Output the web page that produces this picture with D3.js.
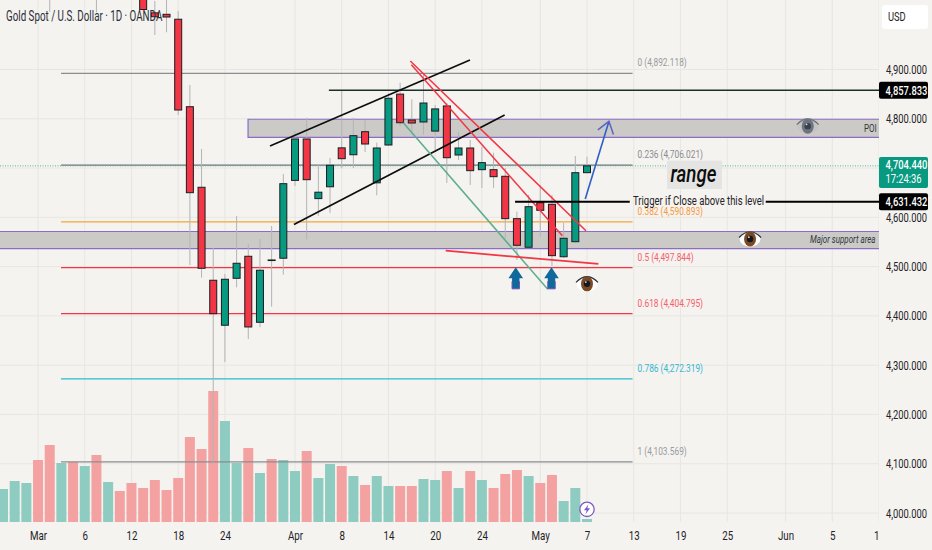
<!DOCTYPE html>
<html>
<head>
<meta charset="utf-8">
<script src="https://cdnjs.cloudflare.com/ajax/libs/d3/7.8.5/d3.min.js"></script>
<style>
  html, body { margin: 0; padding: 0; background: #f4f3ef; }
  svg { display: block; }
  text { font-family: 'Roboto', sans-serif; }
</style>
</head>
<body>
<svg id="chart" width="932" height="550"></svg>
<script>
// daily bars, gold spot, prices (first bars are above the visible range)
var opens = [5190, 5225, 5270, 5310, 5240, 5130, 5160, 5120, 5170, 5090, 5130, 5105, 5080, 5015, 5012, 5002, 4824.5, 4661, 4472.3, 4381, 4476.3, 4521, 4387, 4513.5, 4517, 4675, 4759, 4638, 4662, 4741, 4727, 4773.8, 4670, 4746.8, 4850, 4797.5, 4793.5, 4775, 4826, 4726.5, 4740.7, 4696.7, 4696.7, 4683.3, 4597.3, 4539.3, 4629.7, 4626.5, 4520, 4550.6, 4690.6];
var highs = [5250, 5290, 5340, 5330, 5260, 5190, 5180, 5200, 5190, 5150, 5160, 5125, 5095, 5039, 5041, 5018.7, 4868.6, 4738.7, 4537.8, 4485, 4602.8, 4546, 4556, 4582.5, 4688, 4775, 4802, 4706, 4720.4, 4858.4, 4802, 4797.5, 4751.5, 4852, 4873, 4839.5, 4892.1, 4828, 4832, 4773.8, 4757, 4742.8, 4731, 4700, 4611.5, 4645.4, 4665.6, 4645.4, 4588.5, 4724.5, 4723];
var lows = [5170, 5210, 5255, 5180, 5017, 5100, 5085, 5090, 5016, 5070, 5085, 5055, 5021, 4970, 4975.5, 4807.7, 4503.3, 4477.6, 4103.6, 4306.5, 4458, 4353, 4377, 4418.7, 4483.7, 4663.6, 4555.5, 4603, 4609, 4699.5, 4700, 4732.6, 4644.7, 4744.8, 4785, 4769, 4767.7, 4736.7, 4669.7, 4716.4, 4665.6, 4659.6, 4659.6, 4558, 4513.5, 4537.8, 4560.8, 4501.3, 4517.5, 4548.6, 4690];
var closes = [5225, 5270, 5310, 5240, 5130, 5160, 5120, 5170, 5090, 5130, 5105, 5080, 5021.7, 5007, 5006.5, 4817.8, 4650, 4496.6, 4404.5, 4474.3, 4506.8, 4377.5, 4492.6, 4512.3, 4668.3, 4759, 4676.4, 4651, 4705.6, 4719, 4765.7, 4748.8, 4740.7, 4841.6, 4792, 4791.4, 4832, 4820, 4721, 4740.7, 4694.7, 4711, 4682.5, 4597.3, 4543.3, 4621.6, 4614.3, 4522.2, 4557.5, 4690.6, 4704.44];
var volumes = [33, 41, 39, 62, 77, 59, 60, 56, 67, 40, 31, 39, 34, 42, 32, 44, 85, 73, 131, 101, 59, 74, 49, 63, 62, 51, 71, 44, 58, 56, 46, 37, 46, 36, 36, 36, 43, 42, 51, 34, 51, 42, 34, 48, 52, 46, 39, 47, 21, 34, 3];

var priceTicks = [4000, 4100, 4200, 4300, 4400, 4500, 4600, 4700, 4800, 4900];
var dateTickBars = [3, 7, 11, 15, 19, 25, 29, 33, 37, 41, 46, 50, 54, 58, 62, 67, 71, 75];
var dateTickLabels = ['Mar', '6', '12', '18', '24', 'Apr', '8', '14', '20', '24', 'May', '7', '13', '19', '25', 'Jun', '5', '11'];

var fibRatios = ['0', '0.236', '0.382', '0.5', '0.618', '0.786', '1'];
var fibPrices = [4892.118, 4706.021, 4590.893, 4497.844, 4404.795, 4272.319, 4103.569];
var fibLines = ['#8a8c90', '#6f7176', '#f5a63a', '#f23645', '#f23645', '#2bbbd0', '#8a8c90'];
var fibTexts = ['#9a9ca0', '#8a8c90', '#f79a3e', '#f4606c', '#f4606c', '#3ab6cf', '#9a9ca0'];

var lastPrice = 4704.44;
var resistanceLevel = 4857.833;
var triggerLevel = 4631.432;

// drawings as [bar, price] pairs
var upperChannel = [[22.86, 4744.8], [39.98, 4919.3]];
var lowerChannel = [[24.91, 4585.5], [42.95, 4807.7]];
var redOuter = [[34.87, 4917.2], [49.91, 4572.9]];
var redInner = [[34.96, 4909.7], [47.89, 4562.8]];
var greenLine = [[34.27, 4792], [46.64, 4454]];
var supportLine = [[37.9, 4532.3], [50.97, 4505.4]];
var blueArrow = [[49.85, 4637.2], [51.88, 4794.9]];
var poiZone = [20.98, 4799, 4762.4];
var supportZone = [-1, 4571.3, 4536.4];
var upArrowBars = [43.9, 46.96];
var upArrowPrice = 4498.6;
var eyes = [[68.9, 4785, 'gray'], [63.96, 4556, 'brown'], [50, 4465, 'brown']];

var width = 932, height = 550;
var plotRight = 879, plotBottom = 522;
var barStep = 11.68;

// the reference font is narrow, so texts get pulled in horizontally around their x
function squeeze(sel, k) {
  sel.each(function() {
    var t = d3.select(this);
    var x = +t.attr('x') || 0;
    t.attr('transform', 'translate(' + (x * (1 - k)) + ',0) scale(' + k + ',1)');
  });
  return sel;
}

var svg = d3.select('#chart');
var bg = '#f4f3ef';
svg.append('rect').attr('width', width).attr('height', height).attr('fill', bg);

var defs = svg.append('defs');
defs.append('clipPath').attr('id', 'plotClip').append('rect')
  .attr('width', plotRight).attr('height', plotBottom);
defs.append('clipPath').attr('id', 'dateClip').append('rect')
  .attr('y', plotBottom).attr('width', plotRight).attr('height', height - plotBottom);

var xScale = d3.scaleLinear().domain([0, 1]).range([3, 3 + barStep]);
var yScale = d3.scaleLinear().domain([4000, 4900]).range([513, 69.5]);
var volScale = d3.scaleLinear().domain([0, 131]).range([plotBottom, 391]);

var plot = svg.append('g').attr('clip-path', 'url(#plotClip)');

// grid
plot.selectAll('.gridV').data(dateTickBars).enter().append('line')
  .attr('x1', function(d) { return xScale(d); })
  .attr('x2', function(d) { return xScale(d); })
  .attr('y1', 0).attr('y2', plotBottom)
  .attr('stroke', '#e7e6e2').attr('stroke-width', 1);
plot.selectAll('.gridH').data(priceTicks).enter().append('line')
  .attr('x1', 0).attr('x2', plotRight)
  .attr('y1', function(d) { return yScale(d); })
  .attr('y2', function(d) { return yScale(d); })
  .attr('stroke', '#e7e6e2').attr('stroke-width', 1);

// volume
plot.selectAll('.vol').data(volumes).enter().append('rect')
  .attr('x', function(d, i) { return xScale(i) - 5; })
  .attr('width', 10)
  .attr('y', function(d) { return volScale(d); })
  .attr('height', function(d) { return plotBottom - volScale(d); })
  .attr('fill', function(d, i) { return closes[i] >= opens[i] ? '#8ecbc1' : '#f4a2a1'; });

// zones
function drawZone(zone, withLeft) {
  var x0 = xScale(zone[0]), y0 = yScale(zone[1]), y1 = yScale(zone[2]);
  plot.append('rect').attr('x', x0).attr('y', y0)
    .attr('width', plotRight - x0).attr('height', y1 - y0)
    .attr('fill', '#cbcac7');
  plot.append('path')
    .attr('d', withLeft
      ? 'M' + plotRight + ',' + y0 + 'H' + x0 + 'V' + y1 + 'H' + plotRight
      : 'M' + x0 + ',' + y0 + 'H' + plotRight + 'M' + x0 + ',' + y1 + 'H' + plotRight)
    .attr('fill', 'none').attr('stroke', '#8c6cc6').attr('stroke-width', 1.2);
}
drawZone(poiZone, true);
drawZone(supportZone, false);

// fib levels
plot.selectAll('.fib').data(fibPrices).enter().append('line')
  .attr('x1', xScale(4.97)).attr('x2', xScale(53.9))
  .attr('y1', function(d) { return yScale(d); })
  .attr('y2', function(d) { return yScale(d); })
  .attr('stroke', function(d, i) { return fibLines[i]; })
  .attr('stroke-width', 1.2);

// last price dotted line
plot.append('line')
  .attr('x1', 0).attr('x2', plotRight)
  .attr('y1', yScale(lastPrice)).attr('y2', yScale(lastPrice))
  .attr('stroke', '#4fb8a6').attr('stroke-width', 1).attr('stroke-dasharray', '1,1.5');

// candles
var candleIdx = d3.range(opens.length);
plot.selectAll('.wick').data(candleIdx).enter().append('line')
  .attr('x1', function(i) { return xScale(i); })
  .attr('x2', function(i) { return xScale(i); })
  .attr('y1', function(i) { return yScale(highs[i]); })
  .attr('y2', function(i) { return yScale(lows[i]); })
  .attr('stroke', '#b3b4b5').attr('stroke-width', 1);
plot.selectAll('.body').data(candleIdx).enter().append('rect')
  .attr('x', function(i) { return xScale(i) - 3.5; })
  .attr('width', 7)
  .attr('y', function(i) { return yScale(Math.max(opens[i], closes[i])); })
  .attr('height', function(i) { return Math.abs(yScale(opens[i]) - yScale(closes[i])); })
  .attr('fill', function(i) { return closes[i] >= opens[i] ? '#089981' : '#f23645'; })
  .attr('stroke', '#1a1d22').attr('stroke-width', 1);

// trend lines
var line = d3.line()
  .x(function(d) { return xScale(d[0]); })
  .y(function(d) { return yScale(d[1]); });
function drawTrend(points, color, w) {
  plot.append('path').attr('d', line(points))
    .attr('fill', 'none').attr('stroke', color).attr('stroke-width', w);
}
drawTrend([[27.9, resistanceLevel], [75.3, resistanceLevel]], '#1d2e2b', 1.4);
drawTrend(upperChannel, '#0e0e0e', 1.7);
drawTrend(lowerChannel, '#0e0e0e', 1.7);
drawTrend(greenLine, '#5cae8e', 1.5);
drawTrend(redOuter, '#f23645', 1.5);
drawTrend(redInner, '#f23645', 1.5);
drawTrend(supportLine, '#f23645', 1.8);
drawTrend([[43.84, triggerLevel], [53.66, triggerLevel]], '#000', 2);
drawTrend([[65.3, triggerLevel], [75.3, triggerLevel]], '#000', 2);

// blue arrow to POI
drawTrend(blueArrow, '#2f5fc8', 1.6);
var tipX = xScale(blueArrow[1][0]), tipY = yScale(blueArrow[1][1]);
var ang = Math.atan2(yScale(blueArrow[0][1]) - tipY, xScale(blueArrow[0][0]) - tipX);
plot.append('path')
  .attr('d', 'M' + (tipX + 14 * Math.cos(ang - 0.62)) + ',' + (tipY + 14 * Math.sin(ang - 0.62))
    + 'L' + tipX + ',' + tipY
    + 'L' + (tipX + 14 * Math.cos(ang + 0.62)) + ',' + (tipY + 14 * Math.sin(ang + 0.62)))
  .attr('fill', 'none').attr('stroke', '#5c62c8').attr('stroke-width', 1.5);

// up arrows under the two lows
plot.selectAll('.upArrow').data(upArrowBars).enter().append('path')
  .attr('transform', function(d) { return 'translate(' + xScale(d) + ',' + yScale(upArrowPrice) + ')'; })
  .attr('d', 'M0,0L7.3,11H3.7V21.5H-3.7V11H-7.3Z')
  .attr('fill', '#10699c');
plot.selectAll('.upArrowBase').data(upArrowBars).enter().append('path')
  .attr('transform', function(d) { return 'translate(' + xScale(d) + ',' + yScale(upArrowPrice) + ')'; })
  .attr('d', 'M-3.7,14V21.5H3.7V14')
  .attr('fill', 'none').attr('stroke', '#6f4fb0').attr('stroke-width', 1);

// eyes
eyes.forEach(function(e) {
  var g = plot.append('g').attr('transform', 'translate(' + xScale(e[0]) + ',' + yScale(e[1]) + ')');
  var gray = e[2] === 'gray';
  g.append('ellipse').attr('rx', 10.5).attr('ry', 7.5)
    .attr('fill', gray ? '#c4c4c4' : '#fff');
  g.append('path').attr('d', 'M-11,-1.5Q0,-13 11,-1.5')
    .attr('fill', 'none').attr('stroke', gray ? '#6b7078' : '#2b2f36').attr('stroke-width', 1.2);
  g.append('ellipse').attr('rx', 6).attr('ry', 7.5)
    .attr('fill', gray ? '#6d7480' : '#7a4a26');
  g.append('circle').attr('r', 3.2).attr('fill', gray ? '#39404b' : '#14181c');
  g.append('circle').attr('cx', -1.2).attr('cy', -1.8).attr('r', 0.9).attr('fill', '#dfe3e6');
});

// fib labels
var fmt = d3.format(',.3f');
squeeze(plot.selectAll('.fibLabel').data(fibPrices).enter().append('text')
  .attr('x', xScale(53.9) + 5)
  .attr('y', function(d) { return yScale(d) - 7; })
  .attr('font-size', 11)
  .attr('fill', function(d, i) { return fibTexts[i]; })
  .text(function(d, i) { return fibRatios[i] + ' (' + fmt(d) + ')'; }), 0.76);

// notes on the chart
plot.append('rect').attr('x', 667).attr('y', 160.7).attr('width', 55).attr('height', 28.3).attr('fill', '#e4e4e2');
squeeze(plot.append('text').attr('x', 670.5).attr('y', 182)
  .attr('font-size', 24).attr('font-style', 'italic').attr('font-weight', 500).attr('fill', '#0d0d0d').text('range'), 0.78);
squeeze(plot.append('text').attr('x', 633).attr('y', 205.5).attr('font-size', 12.5).attr('fill', '#1f2226')
  .text('Trigger if Close above this level'), 0.76);
squeeze(plot.append('text').attr('x', 864).attr('y', 132.5)
  .attr('font-size', 10).attr('fill', '#33373d').text('POI'), 0.8);
squeeze(plot.append('text').attr('x', 810).attr('y', 243.5)
  .attr('font-size', 10.5).attr('font-style', 'italic').attr('fill', '#33373d').text('Major support area'), 0.76);

// axes
var priceAxis = d3.axisRight(yScale)
  .tickValues(priceTicks.filter(function(d) { return d !== 4700; }))
  .tickFormat(d3.format(',.3f'))
  .tickSize(0).tickPadding(7);
var priceG = svg.append('g').attr('transform', 'translate(' + plotRight + ',0)').call(priceAxis);
priceG.select('.domain').remove();
squeeze(priceG.selectAll('text').attr('font-size', 12.5).attr('fill', '#1f2226')
  .style('font-family', 'Roboto, sans-serif'), 0.75);

var dateAxis = d3.axisBottom(xScale)
  .tickValues(dateTickBars)
  .tickFormat(function(d, i) { return dateTickLabels[i]; })
  .tickSize(0).tickPadding(9);
var dateG = svg.append('g').attr('clip-path', 'url(#dateClip)')
  .append('g').attr('transform', 'translate(0,' + plotBottom + ')').call(dateAxis);
dateG.select('.domain').remove();
squeeze(dateG.selectAll('text').attr('font-size', 12.5).attr('fill', '#1f2226')
  .style('font-family', 'Roboto, sans-serif'), 0.78);

// price tags
function priceTag(price, color) {
  var y = yScale(price);
  svg.append('rect').attr('x', 879).attr('y', y - 8.5).attr('width', 49).attr('height', 17)
    .attr('rx', 2).attr('fill', color);
  squeeze(svg.append('text').attr('x', 885.5).attr('y', y + 4.4).attr('font-size', 12.5)
    .attr('font-weight', 500).attr('fill', '#fff').text(fmt(price)), 0.75);
}
priceTag(resistanceLevel, '#000');
priceTag(triggerLevel, '#000');
svg.append('rect').attr('x', 879).attr('y', 157).attr('width', 49).attr('height', 31)
  .attr('rx', 2).attr('fill', '#089981');
squeeze(svg.append('text').attr('x', 885.5).attr('y', 169.5).attr('font-size', 12)
  .attr('font-weight', 500).attr('fill', '#fff').text(fmt(lastPrice)), 0.78);
squeeze(svg.append('text').attr('x', 885.5).attr('y', 183.5).attr('font-size', 12)
  .attr('fill', '#fff').text('17:24:36'), 0.78);

// USD box
svg.append('rect').attr('x', 882).attr('y', 5).attr('width', 46).attr('height', 24)
  .attr('rx', 3).attr('fill', '#fff');
squeeze(svg.append('text').attr('x', 888).attr('y', 21.5).attr('font-size', 12.5).attr('fill', '#1f2226').text('USD'), 0.75);

// title
squeeze(svg.append('text').attr('x', 6).attr('y', 21).attr('font-size', 14).attr('fill', '#2a2e39')
  .text('Gold Spot / U.S. Dollar \u00b7 1D \u00b7 OANDA'), 0.7);

// lightning badge
var bolt = svg.append('g').attr('transform', 'translate(' + xScale(50) + ',509.3)');
bolt.append('circle').attr('r', 7.2).attr('fill', '#fff').attr('stroke', '#7e57c2').attr('stroke-width', 1.3);
bolt.append('path').attr('d', 'M1.5,-5L-3,1H-0.3L-1.5,5L3,-1H0.3Z').attr('fill', '#7e57c2');
</script>
</body>
</html>
